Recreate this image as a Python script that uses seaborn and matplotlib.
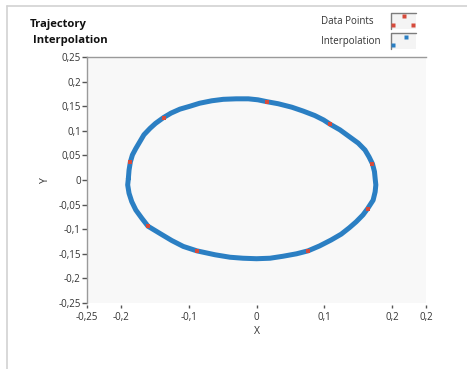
import numpy as np
import pandas as pd
import matplotlib
matplotlib.use("Agg")
import matplotlib.pyplot as plt
import seaborn as sns
from matplotlib.legend_handler import HandlerBase
from matplotlib.patches import Rectangle
from matplotlib.lines import Line2D
from matplotlib.ticker import FixedLocator, FixedFormatter

# Measured trajectory samples (red squares)
data_x = [0.016, 0.109, 0.171, 0.164, 0.076, -0.088, -0.160, -0.186, -0.137]
data_y = [0.159, 0.113, 0.033, -0.058, -0.144, -0.144, -0.094, 0.037, 0.127]

# Interpolated closed path (blue), traced clockwise from the left edge
interp_x = [-0.189, -0.188, -0.186, -0.183, -0.178, -0.172, -0.166, -0.157,
            -0.149, -0.137, -0.126, -0.113, -0.098, -0.084, -0.066, -0.049,
            -0.030, -0.012, 0.002, 0.016, 0.032, 0.052, 0.069, 0.086, 0.099,
            0.109, 0.123, 0.137, 0.150, 0.160, 0.166, 0.171, 0.174, 0.175,
            0.176, 0.175, 0.172, 0.164, 0.157, 0.147, 0.137, 0.125, 0.110,
            0.093, 0.076, 0.059, 0.039, 0.020, 0.000, -0.020, -0.039, -0.061,
            -0.088, -0.108, -0.125, -0.142, -0.160, -0.169, -0.178, -0.184,
            -0.188, -0.190]
interp_y = [0.003, 0.020, 0.037, 0.051, 0.064, 0.078, 0.092, 0.105,
            0.115, 0.127, 0.136, 0.144, 0.150, 0.156, 0.161, 0.164,
            0.165, 0.165, 0.163, 0.159, 0.155, 0.148, 0.140, 0.131, 0.122,
            0.113, 0.102, 0.088, 0.075, 0.061, 0.047, 0.033, 0.017, 0.003,
            -0.010, -0.024, -0.041, -0.058, -0.071, -0.085, -0.097, -0.110, -0.122,
            -0.134, -0.144, -0.150, -0.155, -0.159, -0.160, -0.159, -0.157, -0.152,
            -0.144, -0.135, -0.123, -0.109, -0.094, -0.078, -0.061, -0.044,
            -0.027, -0.010]

x_ticks = [-0.25, -0.2, -0.1, 0, 0.1, 0.2, 0.25]
x_tick_labels = ["-0,25", "-0,2", "-0,1", "0", "0,1", "0,2", "0,2"]
y_ticks = [0.25, 0.2, 0.15, 0.1, 0.05, 0, -0.05, -0.1, -0.15, -0.2, -0.25]
y_tick_labels = ["0,25", "0,2", "0,15", "0,1", "0,05", "0", "-0,05", "-0,1",
                 "-0,15", "-0,2", "-0,25"]
x_grid = [-0.2, -0.1, 0, 0.1, 0.2]
y_grid = [0.2, 0.15, 0.1, 0.05, 0, -0.05, -0.1, -0.15, -0.2]

BLUE = "#2b7fc3"
RED = "#d64b3c"

sns.set_theme(style="white")
plt.rcParams["font.family"] = ["Open Sans", "DejaVu Sans"]

W, H = 467, 369
fig = plt.figure(figsize=(W / 100, H / 100), dpi=100)
fig.patch.set_facecolor("white")

# panel border (top and left edge)
fig.add_artist(Line2D([7.3 / W, 1], [1 - 5.5 / H] * 2, transform=fig.transFigure,
                      color="#d2d2d2", lw=1.2))
fig.add_artist(Line2D([7.3 / W] * 2, [0, 1 - 5.5 / H], transform=fig.transFigure,
                      color="#d2d2d2", lw=1.2))

ax = fig.add_axes([87 / W, 1 - 303 / H, 339 / W, 246 / H])
ax.set_facecolor("#f8f8f8")

path = pd.DataFrame({"x": interp_x + interp_x[:1], "y": interp_y + interp_y[:1]})
pts = pd.DataFrame({"x": data_x, "y": data_y})

sns.lineplot(data=path, x="x", y="y", sort=False, estimator=None, ax=ax,
             color=BLUE, lw=3.6, solid_capstyle="round", solid_joinstyle="round",
             zorder=3)
sns.scatterplot(data=pts, x="x", y="y", ax=ax, color=RED, marker="s", s=9,
                linewidth=0, zorder=4)

ax.set_xlim(-0.25, 0.25)
ax.set_ylim(-0.25, 0.25)

ax.xaxis.set_major_locator(FixedLocator(x_ticks))
ax.xaxis.set_major_formatter(FixedFormatter(x_tick_labels))
ax.yaxis.set_major_locator(FixedLocator(y_ticks))
ax.yaxis.set_major_formatter(FixedFormatter(y_tick_labels))
ax.xaxis.set_minor_locator(FixedLocator(x_grid))
ax.yaxis.set_minor_locator(FixedLocator(y_grid))
ax.grid(False, which="major")
ax.grid(True, which="minor", color="#dcdcdc", lw=1.1)
ax.set_axisbelow(True)

for side in ["right", "bottom"]:
    ax.spines[side].set_visible(False)
for side in ["left", "top"]:
    ax.spines[side].set_color("#9a9a9a")
    ax.spines[side].set_linewidth(1.0)
ax.spines["bottom"].set_position(("outward", 1.5))

ax.tick_params(axis="x", which="major", bottom=True, direction="out", length=2.4,
               width=1.0, color="#555555", pad=2.6, labelsize=7, labelcolor="#333333")
ax.tick_params(axis="y", which="major", left=True, direction="out", length=3.5,
               width=1.0, color="#555555", pad=1.0, labelsize=7, labelcolor="#333333")
ax.tick_params(which="minor", length=0)

ax.set_xlabel("X", fontsize=7.5, color="#333333")
ax.set_ylabel("Y", fontsize=7.5, color="#333333")
ax.xaxis.set_label_coords((257 - 87) / 339, (303 - 326) / 246)
ax.yaxis.set_label_coords((51 - 87) / 339, 0.5)

# title, two lines
fig.text(30 / W, 1 - 25 / H, "Trajectory", fontsize=8.1, fontweight="bold",
         ha="left", va="center", color="#111111")
fig.text(33 / W, 1 - 40.5 / H, "Interpolation", fontsize=8.1, fontweight="bold",
         ha="left", va="center", color="#111111")


class KeyBox(HandlerBase):
    """Legend key drawn as a small inset box with sample squares."""

    def __init__(self, fx, fy, msize):
        super().__init__()
        self.fx, self.fy, self.msize = fx, fy, msize

    def create_artists(self, legend, orig_handle, xdescent, ydescent, width,
                       height, fontsize, trans):
        x0, y0 = -xdescent, -ydescent
        bg = Rectangle((x0, y0), width, height, facecolor="#f4f4f4",
                       edgecolor="none", transform=trans)
        edge = Line2D([x0, x0, x0 + width], [y0, y0 + height, y0 + height],
                      color="#7d7d7d", lw=1.0, transform=trans)
        col = orig_handle.get_facecolor()[0]
        marks = Line2D([x0 + f * width for f in self.fx],
                       [y0 + f * height for f in self.fy], ls="none", marker="s",
                       ms=self.msize, color=col, mec="none", transform=trans)
        return [bg, edge, marks]


h_data = ax.collections[0]
h_interp = ax.scatter([], [], color=BLUE, marker="s")
leg = ax.legend([h_data, h_interp], ["Data Points", "Interpolation"],
                handler_map={h_data: KeyBox([0.09, 0.5, 0.89], [0.25, 0.8, 0.25], 2.3),
                             h_interp: KeyBox([0.09, 0.59], [0.24, 0.75], 2.3)},
                loc="upper right", bbox_to_anchor=(416 / W, 1 - 13 / H),
                bbox_transform=fig.transFigure, frameon=False, markerfirst=False,
                fontsize=7, borderpad=0, borderaxespad=0, handlelength=2.57,
                handleheight=2.15, handletextpad=1.1, labelspacing=0.4)
for t in leg.get_texts():
    t.set_color("#333333")

# keep the legend labels left-aligned while the key boxes stay in one column
fig.canvas.draw()
renderer = fig.canvas.get_renderer()
widths = [t.get_window_extent(renderer).width for t in leg.get_texts()]
rows = leg._legend_handle_box.get_children()[0].get_children()
wmax = max(widths)
for row, w in zip(rows, widths):
    row.sep = row.sep + (wmax - w) * 72.0 / fig.dpi

fig.savefig("out.png", dpi=100, facecolor="white")
